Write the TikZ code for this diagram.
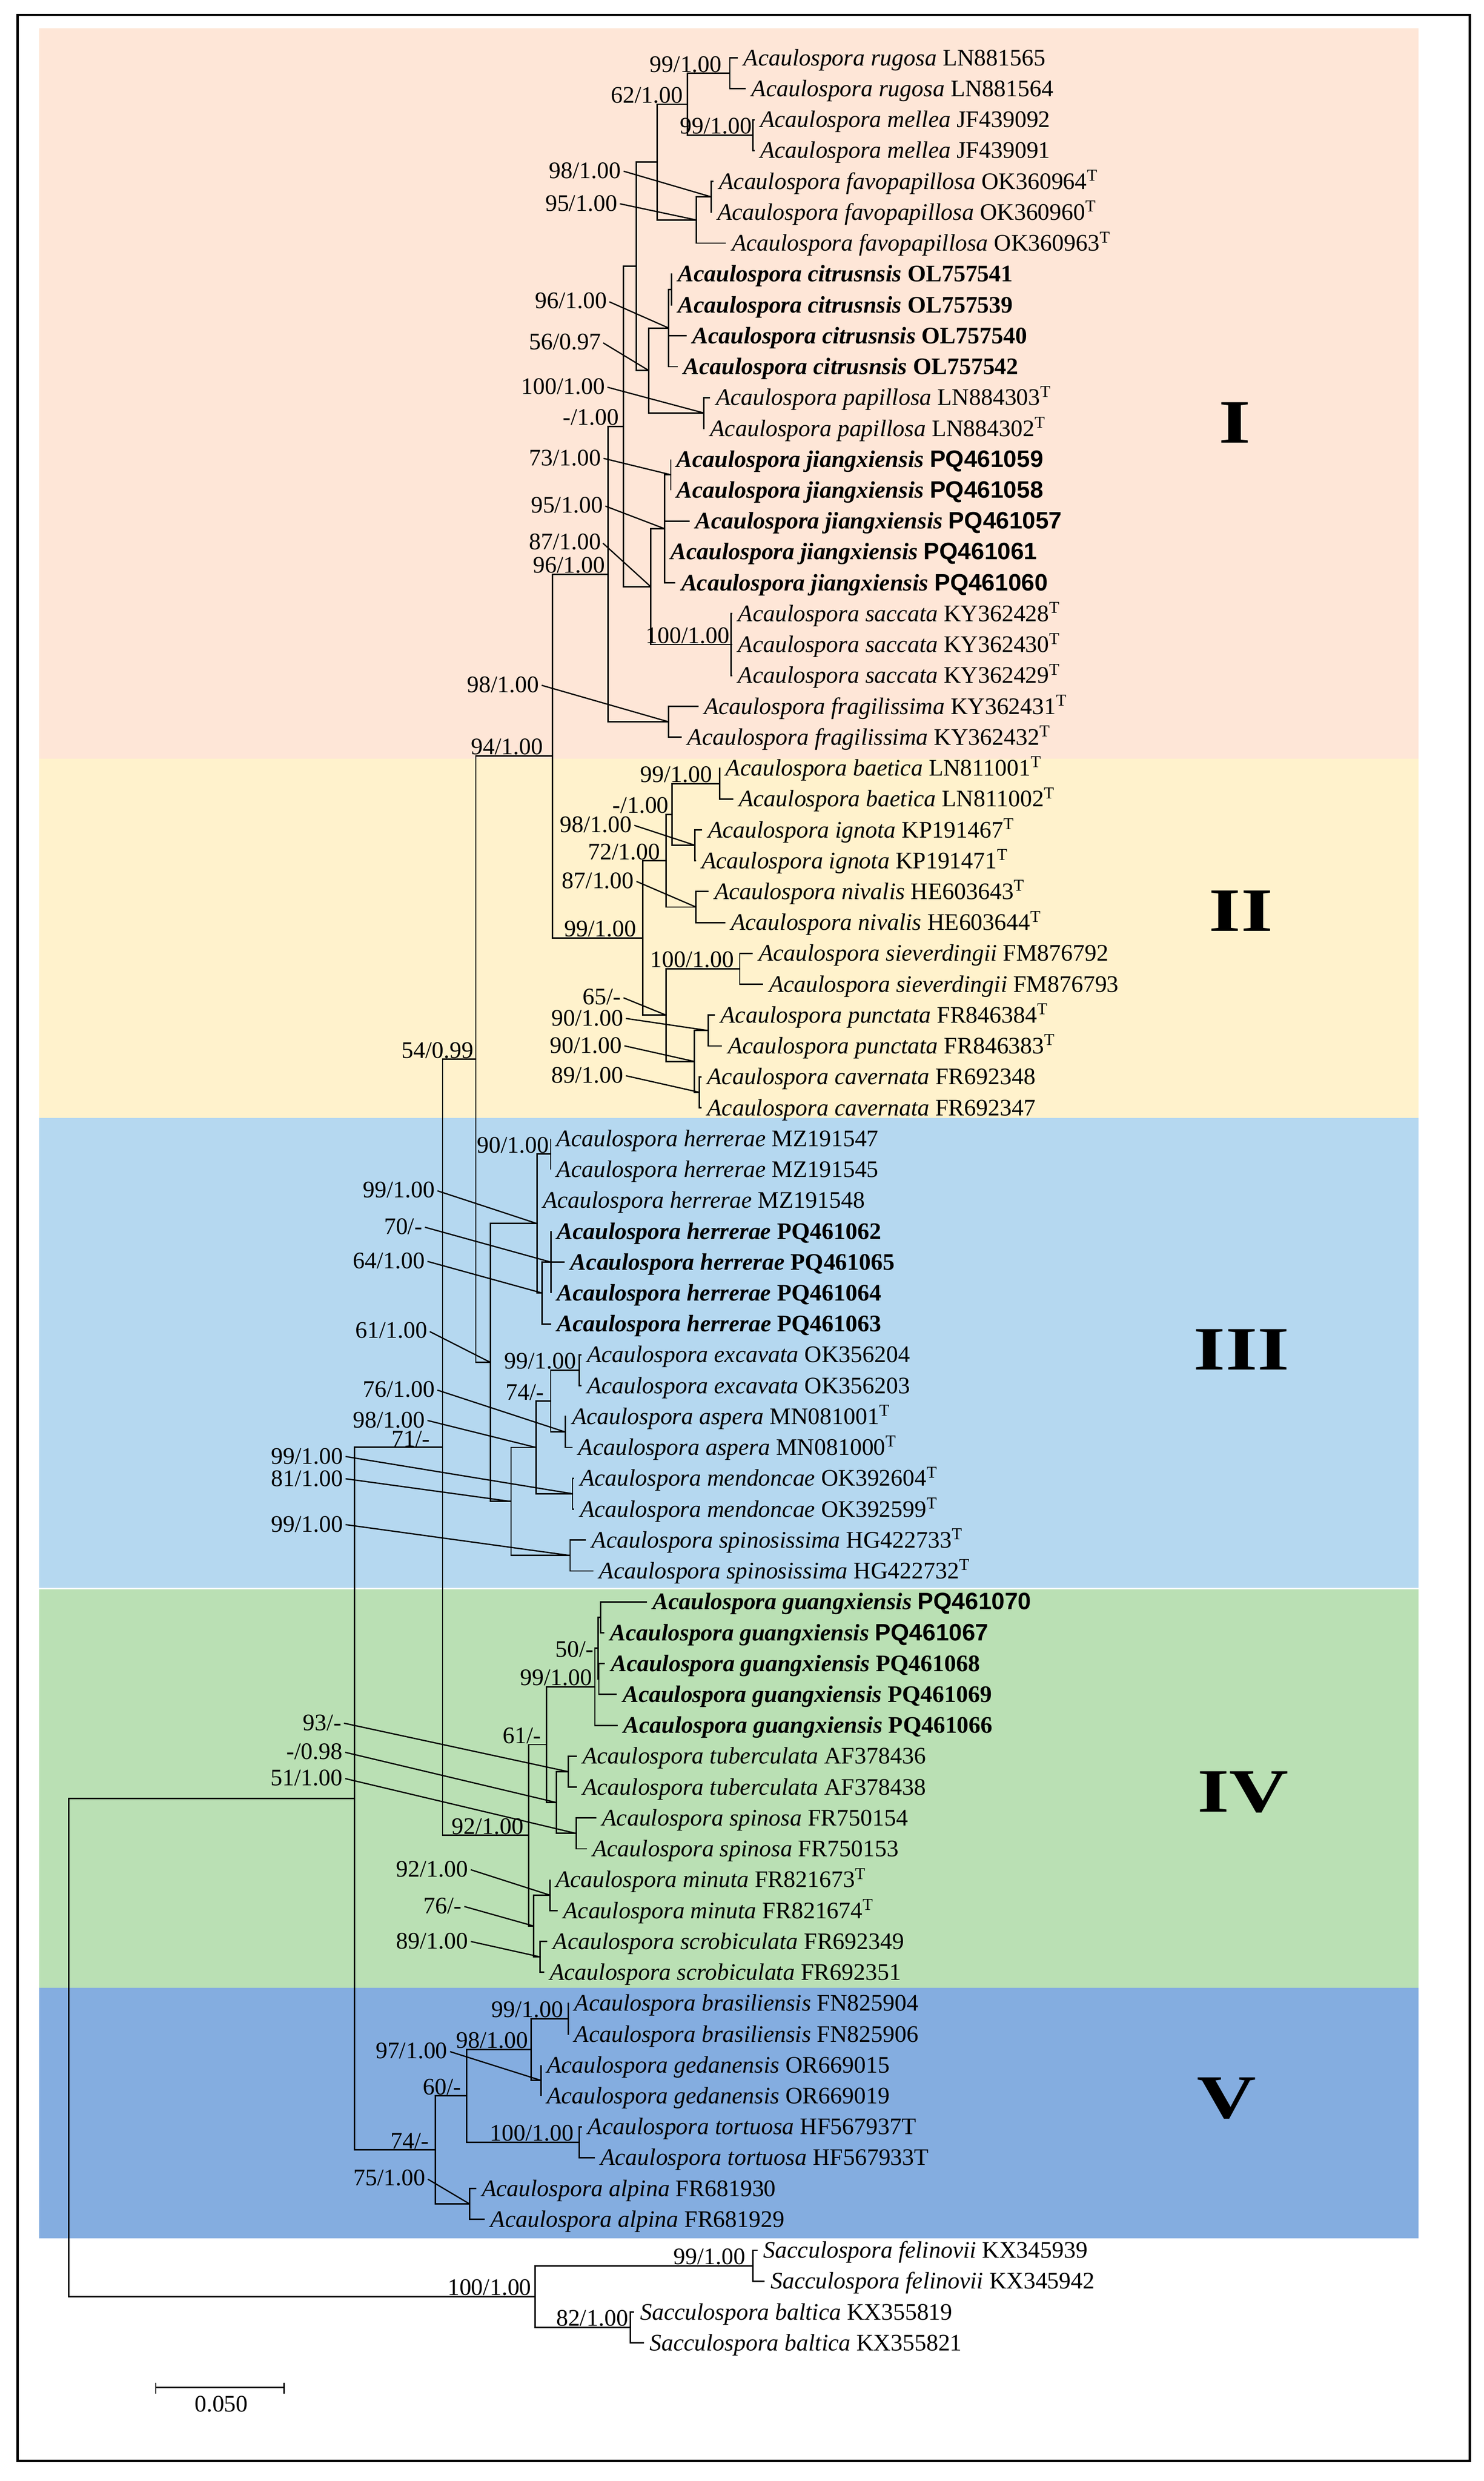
\documentclass[tikz,border=0pt]{standalone}
\usepackage{fontspec}
\setmainfont{Liberation Serif}
\setsansfont{Liberation Sans}
\newcommand{\fsz}{\fontsize{15}{18}\selectfont}
\newcommand{\acau}[1]{\textit{Acaulospora #1}}
\newcommand{\saccu}[1]{\textit{Sacculospora #1}}
\newcommand{\Ts}{\textsuperscript{T}}
\newcommand{\bacau}[1]{\textbf{\textit{Acaulospora #1}}}
\newcommand{\leaf}[5]{\coordinate (e#1) at (#3,#4); \draw[br] (#2) |- (e#1); \node[taxon] (t#1) at (e#1) {#5};}
\newcommand{\edge}[2]{\draw[br] (#1) |- (#2);}
\definecolor{cI}{RGB}{254,230,215}
\definecolor{cII}{RGB}{255,242,204}
\definecolor{cIII}{RGB}{181,216,240}
\definecolor{cIV}{RGB}{186,224,180}
\definecolor{cV}{RGB}{132,173,224}
\begin{document}
\begin{tikzpicture}[x=1pt,y=-1pt,
  br/.style={line width=0.9pt},
  lead/.style={line width=0.8pt, shorten <=1.5pt},
  taxon/.style={anchor=base west, xshift=3.5pt, yshift=-4.9pt, inner sep=0pt, font=\fsz},
  sup/.style={inner sep=0pt, font=\fsz},
  supA/.style={sup, anchor=base east},
  supB/.style={sup, anchor=east},
  clade/.style={font=\fontsize{39}{40}\selectfont\bfseries, inner sep=0pt}]
\useasboundingbox (0,0) rectangle (937.9,1568.4);
% panels
\fill[cI] (24.9,17.9) rectangle (896.8,479.6);
\fill[cII] (24.9,479.6) rectangle (896.8,706.8);
\fill[cIII] (24.9,706.8) rectangle (896.8,1003.8);
\fill[cIV] (24.9,1004.7) rectangle (896.8,1256.7);
\fill[cV] (24.9,1256.7) rectangle (896.8,1415);
\draw[line width=1.5pt] (11.2,9.4) rectangle (929.3,1555.6);
% clade numerals
\node[clade] (nI) at (780.5,267.2) {\scalebox{1.33}[1]{I}};
\node[clade] (nII) at (784.6,575.7) {\scalebox{1.33}[1]{II}};
\node[clade] (nIII) at (784.9,853.2) {\scalebox{1.33}[1]{III}};
\node[clade] (nIV) at (785.8,1132.8) {\scalebox{1.33}[1]{IV}};
\node[clade] (nV) at (775.6,1326.5) {\scalebox{1.33}[1]{V}};
% internal nodes
\coordinate (rug) at (461.4,46.36);
\coordinate (mel) at (476,85.4);
\coordinate (G) at (434.6,65.88);
\coordinate (I) at (449.6,124.44);
\coordinate (H) at (440.3,139.08);
\coordinate (E) at (415.5,102.48);
\coordinate (c1) at (424.6,183.0);
\coordinate (c0) at (422.8,207.4);
\coordinate (pap) at (445,261.08);
\coordinate (F) at (410.2,234.24);
\coordinate (C) at (402.2,168.36);
\coordinate (J1) at (424.1,300.12);
\coordinate (J0) at (420.3,334.28);
\coordinate (sac) at (462.1,407.48);
\coordinate (D) at (411.4,370.88);
\coordinate (B) at (394.1,269.62);
\coordinate (fra) at (422.6,456.28);
\coordinate (A) at (384.4,362.95);
\coordinate (bae) at (455.1,495.32);
\coordinate (ign) at (439.4,534.36);
\coordinate (IIc) at (424.9,514.84);
\coordinate (niv) at (440,573.4);
\coordinate (IIa) at (421.1,544.12);
\coordinate (sie) at (467.7,612.44);
\coordinate (pun) at (447.7,651.48);
\coordinate (cav) at (442.2,690.52);
\coordinate (IId) at (438.9,671.0);
\coordinate (IIb) at (421.1,641.72);
\coordinate (II0) at (406.5,592.92);
\coordinate (K) at (349.3,477.94);
\coordinate (hMZ) at (348.2,729.56);
\coordinate (Q) at (348.4,797.88);
\coordinate (P) at (342.7,817.4);
\coordinate (N) at (339.5,773.48);
\coordinate (exc) at (366.1,866.2);
\coordinate (asp) at (357.3,905.24);
\coordinate (S) at (348.2,885.72);
\coordinate (men) at (362,944.28);
\coordinate (R) at (338.8,915.0);
\coordinate (spi) at (360.4,983.32);
\coordinate (O) at (323.1,949.16);
\coordinate (M) at (310.2,861.32);
\coordinate (L) at (300.8,669.63);
\coordinate (G2) at (379.6,1022.36);
\coordinate (G3) at (378.6,1061.4);
\coordinate (G1) at (378,1041.88);
\coordinate (G0) at (376.1,1066.28);
\coordinate (tub) at (359.2,1119.96);
\coordinate (spn) at (364.2,1159.0);
\coordinate (Y) at (351.8,1139.48);
\coordinate (X) at (345.6,1102.88);
\coordinate (min) at (347.7,1198.04);
\coordinate (scr) at (341.5,1237.08);
\coordinate (Z) at (337.4,1217.56);
\coordinate (Vn) at (334.2,1160.22);
\coordinate (T) at (279.8,914.93);
\coordinate (bra) at (359.4,1276.12);
\coordinate (ged) at (342.1,1315.16);
\coordinate (CC) at (335.7,1295.64);
\coordinate (tor) at (366.3,1354.2);
\coordinate (BB) at (295.1,1324.92);
\coordinate (alp) at (296.9,1393.24);
\coordinate (AA) at (275.3,1359.08);
\coordinate (U) at (224.1,1137.0);
\coordinate (fel) at (475.9,1432.28);
\coordinate (bal) at (398.6,1471.32);
\coordinate (W) at (338.3,1451.8);
\coordinate (root) at (43.4,1294.4);
% internal edges
\edge{G}{rug}\edge{G}{mel}\edge{H}{I}\edge{E}{G}\edge{E}{H}
\edge{c0}{c1}\edge{F}{c0}\edge{F}{pap}\edge{C}{E}\edge{C}{F}
\edge{J0}{J1}\edge{D}{J0}\edge{D}{sac}\edge{B}{C}\edge{B}{D}
\edge{A}{B}\edge{A}{fra}\edge{K}{A}\edge{K}{II0}
\edge{IIc}{bae}\edge{IIc}{ign}\edge{IIa}{IIc}\edge{IIa}{niv}
\edge{IId}{pun}\edge{IId}{cav}\edge{IIb}{sie}\edge{IIb}{IId}
\edge{II0}{IIa}\edge{II0}{IIb}\edge{L}{K}\edge{L}{M}
\edge{N}{hMZ}\edge{N}{P}\edge{P}{Q}\edge{M}{N}\edge{M}{O}
\edge{S}{exc}\edge{S}{asp}\edge{R}{S}\edge{R}{men}\edge{O}{R}\edge{O}{spi}
\edge{T}{L}\edge{T}{Vn}\edge{G1}{G2}\edge{G1}{G3}\edge{G0}{G1}
\edge{Y}{tub}\edge{Y}{spn}\edge{X}{G0}\edge{X}{Y}\edge{Z}{min}\edge{Z}{scr}
\edge{Vn}{X}\edge{Vn}{Z}\edge{CC}{bra}\edge{CC}{ged}\edge{BB}{CC}\edge{BB}{tor}
\edge{AA}{BB}\edge{AA}{alp}\edge{U}{T}\edge{U}{AA}\edge{W}{fel}\edge{W}{bal}
\edge{root}{U}\edge{root}{W}
% leaves
\leaf{1}{rug}{466.5}{36.6}{\acau{rugosa} LN881565}
\leaf{2}{rug}{471.5}{56.12}{\acau{rugosa} LN881564}
\leaf{3}{mel}{477}{75.64}{\acau{mellea} JF439092}
\leaf{4}{mel}{477}{95.16}{\acau{mellea} JF439091}
\leaf{5}{I}{451}{114.68}{\acau{favopapillosa} OK360964\Ts}
\leaf{6}{I}{450}{134.2}{\acau{favopapillosa} OK360960\Ts}
\leaf{7}{H}{459}{153.72}{\acau{favopapillosa} OK360963\Ts}
\leaf{8}{c1}{425}{173.24}{\textbf{\acau{citrusnsis} OL757541}}
\leaf{9}{c1}{425}{192.76}{\textbf{\acau{citrusnsis} OL757539}}
\leaf{10}{c0}{434}{212.28}{\textbf{\acau{citrusnsis} OL757540}}
\leaf{11}{c0}{428.5}{231.8}{\textbf{\acau{citrusnsis} OL757542}}
\leaf{12}{pap}{449}{251.32}{\acau{papillosa} LN884303\Ts}
\leaf{13}{pap}{445.4}{270.84}{\acau{papillosa} LN884302\Ts}
\leaf{14}{J1}{424.1}{290.36}{\bacau{jiangxiensis} \textsf{\textbf{PQ461059}}}
\leaf{15}{J1}{424.1}{309.88}{\bacau{jiangxiensis} \textsf{\textbf{PQ461058}}}
\leaf{16}{J0}{436}{329.4}{\bacau{jiangxiensis} \textsf{\textbf{PQ461057}}}
\leaf{17}{J0}{420.3}{348.92}{\bacau{jiangxiensis} \textsf{\textbf{PQ461061}}}
\leaf{18}{J0}{427}{368.44}{\bacau{jiangxiensis} \textsf{\textbf{PQ461060}}}
\leaf{19}{sac}{463}{387.96}{\acau{saccata} KY362428\Ts}
\leaf{20}{sac}{463}{407.48}{\acau{saccata} KY362430\Ts}
\leaf{21}{sac}{463}{427.0}{\acau{saccata} KY362429\Ts}
\leaf{22}{fra}{441.5}{446.52}{\acau{fragilissima} KY362431\Ts}
\leaf{23}{fra}{431}{466.04}{\acau{fragilissima} KY362432\Ts}
\leaf{24}{bae}{455.2}{485.56}{\acau{baetica} LN811001\Ts}
\leaf{25}{bae}{463.5}{505.08}{\acau{baetica} LN811002\Ts}
\leaf{26}{ign}{444}{524.6}{\acau{ignota} KP191467\Ts}
\leaf{27}{ign}{440}{544.12}{\acau{ignota} KP191471\Ts}
\leaf{28}{niv}{448}{563.64}{\acau{nivalis} HE603643\Ts}
\leaf{29}{niv}{458.5}{583.16}{\acau{nivalis} HE603644\Ts}
\leaf{30}{sie}{476}{602.68}{\acau{sieverdingii} FM876792}
\leaf{31}{sie}{482.5}{622.2}{\acau{sieverdingii} FM876793}
\leaf{32}{pun}{452}{641.72}{\acau{punctata} FR846384\Ts}
\leaf{33}{pun}{456.5}{661.24}{\acau{punctata} FR846383\Ts}
\leaf{34}{cav}{443.5}{680.76}{\acau{cavernata} FR692348}
\leaf{35}{cav}{443.5}{700.28}{\acau{cavernata} FR692347}
\leaf{36}{hMZ}{348.2}{719.8}{\acau{herrerae} MZ191547}
\leaf{37}{hMZ}{348.2}{739.32}{\acau{herrerae} MZ191545}
\leaf{38}{N}{339.5}{758.84}{\acau{herrerae} MZ191548}
\leaf{39}{Q}{348.4}{778.36}{\textbf{\acau{herrerae} PQ461062}}
\leaf{40}{Q}{357}{797.88}{\textbf{\acau{herrerae} PQ461065}}
\leaf{41}{Q}{348.4}{817.4}{\textbf{\acau{herrerae} PQ461064}}
\leaf{42}{P}{348.5}{836.92}{\textbf{\acau{herrerae} PQ461063}}
\leaf{43}{exc}{367.5}{856.44}{\acau{excavata} OK356204}
\leaf{44}{exc}{367.5}{875.96}{\acau{excavata} OK356203}
\leaf{45}{asp}{358}{895.48}{\acau{aspera} MN081001\Ts}
\leaf{46}{asp}{362}{915.0}{\acau{aspera} MN081000\Ts}
\leaf{47}{men}{363}{934.52}{\acau{mendoncae} OK392604\Ts}
\leaf{48}{men}{363}{954.04}{\acau{mendoncae} OK392599\Ts}
\leaf{49}{spi}{370.5}{973.56}{\acau{spinosissima} HG422733\Ts}
\leaf{50}{spi}{375.2}{993.08}{\acau{spinosissima} HG422732\Ts}
\leaf{51}{G2}{409}{1012.6}{\bacau{guangxiensis} \textsf{\textbf{PQ461070}}}
\leaf{52}{G2}{382}{1032.12}{\bacau{guangxiensis} \textsf{\textbf{PQ461067}}}
\leaf{53}{G3}{382.5}{1051.64}{\textbf{\acau{guangxiensis} PQ461068}}
\leaf{54}{G3}{390}{1071.16}{\textbf{\acau{guangxiensis} PQ461069}}
\leaf{55}{G0}{390.5}{1090.68}{\textbf{\acau{guangxiensis} PQ461066}}
\leaf{56}{tub}{364.7}{1110.2}{\acau{tuberculata} AF378436}
\leaf{57}{tub}{364.7}{1129.72}{\acau{tuberculata} AF378438}
\leaf{58}{spn}{377}{1149.24}{\acau{spinosa} FR750154}
\leaf{59}{spn}{371}{1168.76}{\acau{spinosa} FR750153}
\leaf{60}{min}{347.7}{1188.28}{\acau{minuta} FR821673\Ts}
\leaf{61}{min}{352.5}{1207.8}{\acau{minuta} FR821674\Ts}
\leaf{62}{scr}{346}{1227.32}{\acau{scrobiculata} FR692349}
\leaf{63}{scr}{344}{1246.84}{\acau{scrobiculata} FR692351}
\leaf{64}{bra}{359.5}{1266.36}{\acau{brasiliensis} FN825904}
\leaf{65}{bra}{359.5}{1285.88}{\acau{brasiliensis} FN825906}
\leaf{66}{ged}{342.1}{1305.4}{\acau{gedanensis} OR669015}
\leaf{67}{ged}{342.1}{1324.92}{\acau{gedanensis} OR669019}
\leaf{68}{tor}{368}{1344.44}{\acau{tortuosa} HF567937T}
\leaf{69}{tor}{376}{1363.96}{\acau{tortuosa} HF567933T}
\leaf{70}{alp}{301}{1383.48}{\acau{alpina} FR681930}
\leaf{71}{alp}{306.5}{1403.0}{\acau{alpina} FR681929}
\leaf{72}{fel}{479}{1422.52}{\saccu{felinovii} KX345939}
\leaf{73}{fel}{483.5}{1442.04}{\saccu{felinovii} KX345942}
\leaf{74}{bal}{401}{1461.56}{\saccu{baltica} KX355819}
\leaf{75}{bal}{407}{1481.08}{\saccu{baltica} KX355821}
% support values above branches
\node[supA] (s1) at (456.5,45.5) {99/1.00};
\node[supA] (s2) at (432,65) {62/1.00};
\node[supA] (s3) at (475.6,84.5) {99/1.00};
\node[supA] (s9) at (391.5,268.8) {-/1.00};
\node[supA] (s13) at (382.6,362) {96/1.00};
\node[supA] (s14) at (461.5,406.6) {100/1.00};
\node[supA] (s16) at (343.4,477) {94/1.00};
\node[supA] (s17) at (450.4,494.5) {99/1.00};
\node[supA] (s18) at (423,514) {-/1.00};
\node[supA] (s20) at (417.5,543.3) {72/1.00};
\node[supA] (s22) at (402.4,592) {99/1.00};
\node[supA] (s23) at (464.2,611.6) {100/1.00};
\node[supA] (s28) at (299.5,668.8) {54/0.99};
\node[supA] (s29) at (347.2,728.7) {90/1.00};
\node[supA] (s34) at (364.5,865.4) {99/1.00};
\node[supA] (s35) at (344.1,884.9) {74/-};
\node[supA] (s38) at (272,914.6) {71/-};
\node[supA] (s42) at (375.5,1047.4) {50/-};
\node[supA] (s43) at (374.5,1065.4) {99/1.00};
\node[supA] (s44) at (342.3,1102) {61/-};
\node[supA] (s48) at (331.2,1159.4) {92/1.00};
\node[supA] (s52) at (356.4,1275.3) {99/1.00};
\node[supA] (s53) at (334,1294.8) {98/1.00};
\node[supA] (s55) at (291.7,1324.1) {60/-};
\node[supA] (s56) at (362.8,1353.4) {100/1.00};
\node[supA] (s57) at (271.4,1358.3) {74/-};
\node[supA] (s59) at (471.5,1431.5) {99/1.00};
\node[supA] (s60) at (336.1,1451) {100/1.00};
\node[supA] (s61) at (397.3,1470.5) {82/1.00};
% support values with leader lines
\node[supB] (s4) at (392.8,107.8) {98/1.00};   \draw[lead] (s4.east) -- (I);
\node[supB] (s5) at (390.4,128.5) {95/1.00};   \draw[lead] (s5.east) -- (H);
\node[supB] (s6) at (383.9,190.2) {96/1.00};   \draw[lead] (s6.east) -- (c0);
\node[supB] (s7) at (380.1,216) {56/0.97};     \draw[lead] (s7.east) -- (F);
\node[supB] (s8) at (382.6,244.4) {100/1.00};  \draw[lead] (s8.east) -- (pap);
\node[supB] (s10) at (380.1,289.4) {73/1.00};  \draw[lead] (s10.east) -- (J1);
\node[supB] (s11) at (381.3,319.4) {95/1.00};  \draw[lead] (s11.east) -- (J0);
\node[supB] (s12) at (380.1,342.4) {87/1.00};  \draw[lead] (s12.east) -- (D);
\node[supB] (s15) at (341,432.8) {98/1.00};    \draw[lead] (s15.east) -- (fra);
\node[supB] (s19) at (399.6,521.3) {98/1.00};  \draw[lead] (s19.east) -- (ign);
\node[supB] (s21) at (401,556.6) {87/1.00};    \draw[lead] (s21.east) -- (niv);
\node[supB] (s24) at (392.8,630.2) {65/-};     \draw[lead] (s24.east) -- (IIb);
\node[supB] (s25) at (394.2,643.6) {90/1.00};  \draw[lead] (s25.east) -- (pun);
\node[supB] (s26) at (393.3,660.8) {90/1.00};  \draw[lead] (s26.east) -- (IId);
\node[supB] (s27) at (394.2,679.7) {89/1.00};  \draw[lead] (s27.east) -- (cav);
\node[supB] (s30) at (275.1,752.3) {99/1.00};  \draw[lead] (s30.east) -- (N);
\node[supB] (s31) at (267.2,775.4) {70/-};     \draw[lead] (s31.east) -- (Q);
\node[supB] (s32) at (268.8,797) {64/1.00};    \draw[lead] (s32.east) -- (P);
\node[supB] (s33) at (270.4,841.1) {61/1.00};  \draw[lead] (s33.east) -- (M);
\node[supB] (s36) at (275.1,878.3) {76/1.00};  \draw[lead] (s36.east) -- (asp);
\node[supB] (s37) at (268.8,897.6) {98/1.00};  \draw[lead] (s37.east) -- (R);
\node[supB] (s39) at (217,920.5) {99/1.00};    \draw[lead] (s39.east) -- (men);
\node[supB] (s40) at (217,934.6) {81/1.00};    \draw[lead] (s40.east) -- (O);
\node[supB] (s41) at (217,963.6) {99/1.00};    \draw[lead] (s41.east) -- (spi);
\node[supB] (s45) at (216,1089) {93/-};        \draw[lead] (s45.east) -- (tub);
\node[supB] (s46) at (216.8,1107.4) {-/0.98};  \draw[lead] (s46.east) -- (Y);
\node[supB] (s47) at (216.8,1124) {51/1.00};   \draw[lead] (s47.east) -- (spn);
\node[supB] (s49) at (296.2,1181.5) {92/1.00}; \draw[lead] (s49.east) -- (min);
\node[supB] (s50) at (292.1,1204.8) {76/-};    \draw[lead] (s50.east) -- (Z);
\node[supB] (s51) at (296.2,1227) {89/1.00};   \draw[lead] (s51.east) -- (scr);
\node[supB] (s54) at (283.1,1296.5) {97/1.00}; \draw[lead] (s54.east) -- (ged);
\node[supB] (s58) at (269.2,1376.8) {75/1.00}; \draw[lead] (s58.east) -- (alp);
% scale bar
\coordinate (sbL) at (98.5,1509.2);
\coordinate (sbR) at (179.5,1509.2);
\draw[br] (sbL) -- (sbR);
\draw[br] ([yshift=3pt]sbL) -- ([yshift=-4pt]sbL);
\draw[br] ([yshift=3pt]sbR) -- ([yshift=-4pt]sbR);
\node[sup] (sbt) at (139.9,1519.7) {0.050};
\end{tikzpicture}
\end{document}
